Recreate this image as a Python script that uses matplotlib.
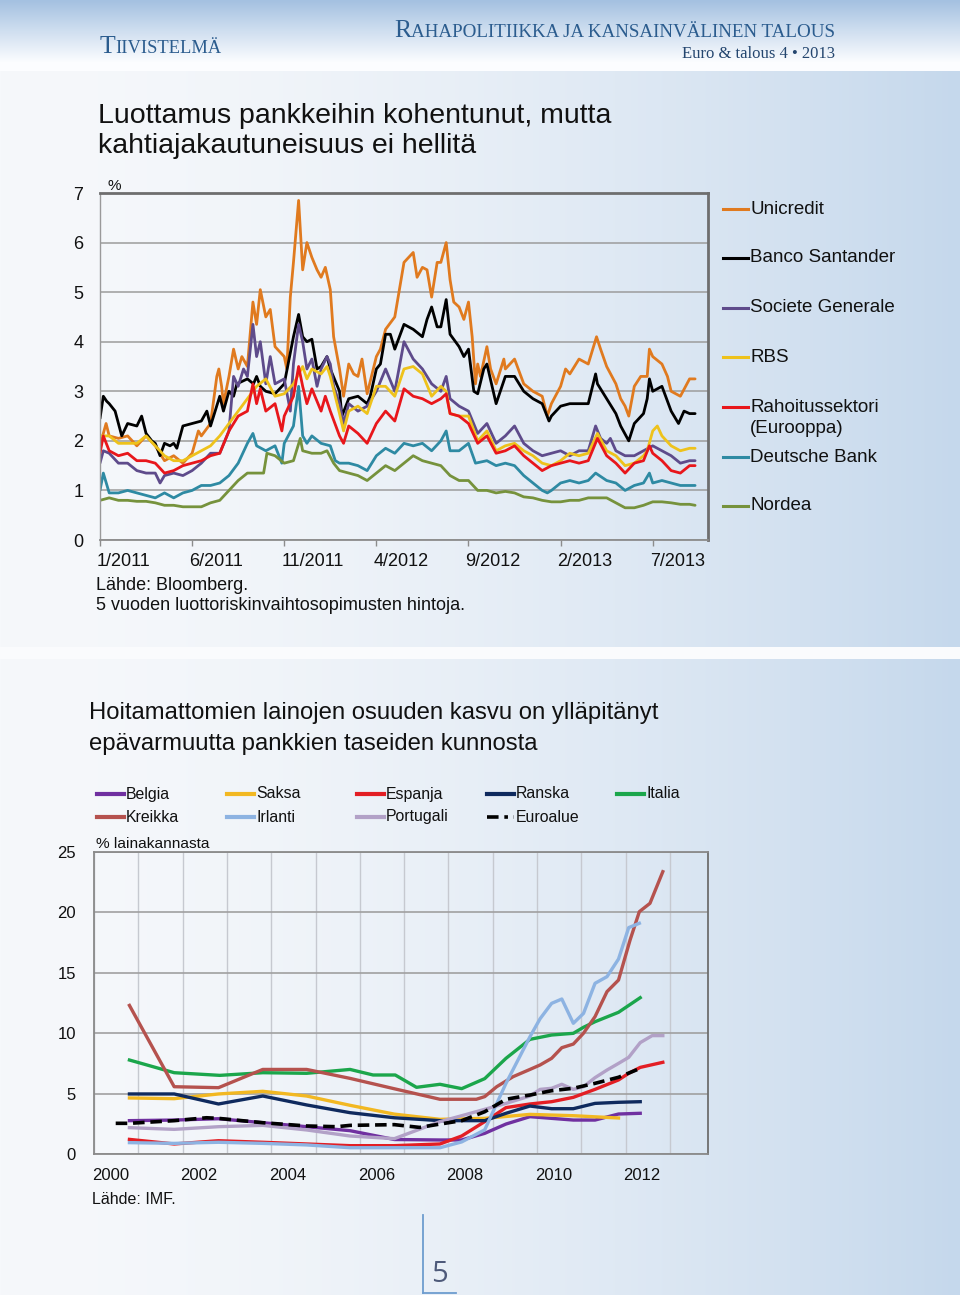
import numpy as np
import matplotlib
matplotlib.use('Agg')
import matplotlib.pyplot as plt
from matplotlib.lines import Line2D
from matplotlib.transforms import ScaledTranslation
from matplotlib import font_manager as fm

W, H = 960, 1295

# ---------------- Chart 1 data: 5y CDS prices, % (x = months since 1/2011) ----------------
bank_names = ['Unicredit', 'Banco Santander', 'Societe Generale', 'RBS',
              'Rahoitussektori\n(Eurooppa)', 'Deutsche Bank', 'Nordea']
bank_colors = ['#E07A1F', '#000000', '#5E4B8B', '#EEC21B', '#E8161B', '#2E8AA3', '#76923C']
month_ticks = [0, 5, 10, 15, 20, 25, 30]
month_labels = ['1/2011', '6/2011', '11/2011', '4/2012', '9/2012', '2/2013', '7/2013']

unicredit = [(0,1.9),(0.18,2.15),(0.33,2.35),(0.5,2.1),(1.0,2.05),(1.5,2.1),(2.0,1.9),(2.5,2.1),(3.0,1.9),(3.5,1.6),
             (4.0,1.7),(4.5,1.55),(5.0,1.75),(5.34,2.2),(5.5,2.1),(6.0,2.35),(6.34,3.3),(6.45,3.45),(6.6,3.1),(6.7,2.75),
             (7.0,3.3),(7.25,3.85),(7.5,3.45),(7.7,3.7),(8.0,3.5),(8.3,4.8),(8.5,4.35),(8.7,5.05),(9.0,4.5),(9.24,4.65),
             (9.5,3.9),(10.0,3.7),(10.14,3.45),(10.33,4.9),(10.5,5.6),(10.78,6.85),(11.0,5.45),(11.23,6.0),(11.5,5.7),(11.78,5.45),
             (12.0,5.3),(12.23,5.5),(12.5,5.05),(12.68,4.1),(13.0,3.45),(13.22,2.9),(13.5,3.55),(13.77,3.35),(14.0,3.3),(14.22,3.65),
             (14.5,2.95),(15.0,3.7),(15.22,3.85),(15.5,4.25),(16.0,4.5),(16.5,5.6),(17.0,5.8),(17.21,5.3),(17.5,5.5),(17.75,5.45),
             (18.0,4.9),(18.3,5.6),(18.5,5.6),(18.79,6.0),(19.0,5.25),(19.2,4.8),(19.49,4.7),(19.75,4.45),(20.0,4.8),(20.2,4.1),
             (20.38,3.15),(20.5,3.55),(20.65,3.3),(21.0,3.9),(21.2,3.45),(21.5,3.15),(21.92,3.65),(22.0,3.45),(22.5,3.65),(23.0,3.15),
             (23.5,3.0),(24.0,2.9),(24.28,2.5),(24.5,2.75),(25.0,3.1),(25.27,3.45),(25.5,3.35),(26.0,3.65),(26.5,3.55),(26.95,4.1),
             (27.17,3.85),(27.5,3.5),(28.0,3.15),(28.26,2.85),(28.5,2.7),(28.7,2.5),(29.0,3.1),(29.35,3.3),(29.7,3.3),(29.82,3.85),
             (30.0,3.7),(30.5,3.55),(30.8,3.3),(31.0,3.0),(31.5,2.9),(32.0,3.25),(32.3,3.25)]

santander = [(0,2.45),(0.18,2.9),(0.36,2.8),(0.5,2.75),(0.82,2.6),(1.0,2.35),(1.18,2.1),(1.5,2.35),(2.0,2.3),(2.26,2.5),
             (2.5,2.15),(2.81,2.0),(3.0,1.95),(3.26,1.7),(3.5,1.95),(3.8,1.9),(4.0,1.95),(4.17,1.85),(4.5,2.3),(5.0,2.35),
             (5.5,2.4),(5.8,2.6),(6.0,2.3),(6.5,2.9),(6.7,2.6),(7.0,3.0),(7.25,2.9),(7.43,3.15),(8.0,3.25),(8.33,3.15),
             (8.5,3.3),(8.7,3.1),(9.0,3.0),(9.5,2.95),(10.0,3.15),(10.5,4.1),(10.78,4.55),(11.0,4.1),(11.23,4.0),(11.5,4.05),
             (11.78,3.45),(12.0,3.5),(12.32,3.7),(12.5,3.45),(13.0,3.0),(13.13,2.5),(13.5,2.85),(14.0,2.9),(14.5,2.75),(14.67,2.9),
             (15.0,3.45),(15.22,3.55),(15.5,4.15),(15.76,4.15),(16.0,3.85),(16.5,4.35),(17.0,4.25),(17.5,4.1),(17.75,4.45),(18.0,4.7),
             (18.3,4.3),(18.5,4.3),(18.79,4.85),(19.0,4.15),(19.49,3.9),(19.75,3.7),(20.0,3.85),(20.29,3.0),(20.5,2.95),(20.83,3.45),
             (21.0,3.55),(21.5,2.75),(22.0,3.3),(22.5,3.3),(23.0,3.0),(23.5,2.85),(24.0,2.75),(24.37,2.4),(24.5,2.5),(25.0,2.7),
             (25.5,2.75),(26.0,2.75),(26.5,2.75),(26.9,3.35),(27.0,3.15),(27.5,2.85),(28.0,2.55),(28.26,2.3),(28.7,2.0),(29.0,2.35),
             (29.5,2.55),(29.7,2.85),(29.82,3.25),(30.0,3.0),(30.5,3.1),(31.0,2.6),(31.4,2.35),(31.7,2.6),(32.0,2.55),(32.3,2.55)]

socgen = [(0,1.55),(0.18,1.8),(0.5,1.75),(1.0,1.55),(1.5,1.55),(2.0,1.4),(2.5,1.35),(3.0,1.35),(3.26,1.15),(3.5,1.3),
          (4.0,1.35),(4.5,1.3),(5.0,1.4),(5.5,1.55),(6.0,1.75),(6.5,1.75),(7.0,2.2),(7.25,3.3),(7.5,3.1),(7.79,3.45),
          (8.0,3.3),(8.3,4.35),(8.5,3.7),(8.7,4.0),(9.0,3.15),(9.24,3.7),(9.5,3.15),(10.0,3.25),(10.33,2.6),(10.5,3.55),
          (10.78,4.35),(11.0,4.0),(11.23,3.45),(11.5,3.65),(11.78,3.1),(12.0,3.45),(12.32,3.7),(12.5,3.55),(12.68,3.1),(13.0,2.75),
          (13.22,2.35),(13.5,2.75),(14.0,2.6),(14.5,2.7),(15.0,3.0),(15.5,3.45),(16.0,3.0),(16.5,4.0),(17.0,3.65),(17.5,3.45),
          (18.0,3.15),(18.5,3.0),(18.79,3.3),(19.0,2.85),(19.49,2.7),(20.0,2.6),(20.5,2.15),(21.0,2.35),(21.5,1.95),(22.0,2.1),
          (22.5,2.3),(23.0,1.95),(23.5,1.8),(24.0,1.7),(24.5,1.75),(25.0,1.8),(25.5,1.7),(26.0,1.8),(26.5,1.8),(26.9,2.3),
          (27.17,2.05),(27.5,1.95),(27.7,2.05),(28.0,1.8),(28.5,1.7),(29.0,1.7),(29.5,1.8),(30.0,1.9),(30.5,1.8),(31.0,1.7),
          (31.5,1.55),(32.0,1.6),(32.3,1.6)]

rbs = [(0,2.1),(0.5,2.1),(1.0,1.95),(1.5,1.95),(2.0,1.95),(2.5,2.1),(3.0,1.9),(3.5,1.7),(4.0,1.6),(4.5,1.6),
       (5.0,1.7),(5.5,1.8),(6.0,1.9),(6.5,2.1),(7.0,2.35),(7.5,2.6),(8.0,2.85),(8.5,3.1),(9.0,3.25),(9.5,2.9),
       (10.0,2.95),(10.5,3.15),(11.0,3.5),(11.23,3.25),(11.5,3.45),(12.0,3.35),(12.32,3.5),(12.5,3.3),(13.0,2.55),(13.22,2.2),
       (13.5,2.6),(14.0,2.7),(14.5,2.55),(15.0,3.1),(15.5,3.1),(16.0,2.9),(16.5,3.45),(17.0,3.5),(17.5,3.35),(18.0,2.9),
       (18.5,3.1),(18.79,3.0),(19.0,2.55),(19.49,2.5),(20.0,2.5),(20.5,2.0),(21.0,2.2),(21.5,1.8),(22.0,1.9),(22.5,1.95),
       (23.0,1.8),(23.5,1.7),(24.0,1.55),(24.5,1.5),(25.0,1.6),(25.5,1.75),(26.0,1.7),(26.5,1.75),(27.0,2.15),(27.5,1.8),
       (28.0,1.7),(28.5,1.5),(29.0,1.55),(29.5,1.7),(29.7,1.8),(30.0,2.2),(30.25,2.3),(30.5,2.1),(31.0,1.9),(31.5,1.8),
       (32.0,1.85),(32.3,1.85)]

rahoitus = [(0,1.75),(0.18,2.1),(0.5,1.8),(1.0,1.7),(1.5,1.75),(2.0,1.6),(2.5,1.6),(3.0,1.55),(3.5,1.35),(4.0,1.4),
            (4.5,1.5),(5.0,1.55),(5.5,1.6),(6.0,1.7),(6.5,1.75),(7.0,2.2),(7.5,2.5),(8.0,2.6),(8.3,3.15),(8.5,2.75),
            (8.7,3.05),(9.0,2.6),(9.5,2.75),(9.87,2.2),(10.0,2.5),(10.5,2.9),(10.78,3.5),(11.0,3.1),(11.23,2.75),(11.5,3.05),
            (12.0,2.6),(12.23,2.9),(12.5,2.6),(13.0,2.1),(13.22,1.95),(13.5,2.3),(14.0,2.15),(14.5,1.95),(15.0,2.35),(15.5,2.6),
            (16.0,2.4),(16.5,3.05),(17.0,2.9),(17.5,2.85),(18.0,2.75),(18.5,2.85),(18.79,2.95),(19.0,2.55),(19.49,2.5),(20.0,2.35),
            (20.5,1.95),(21.0,2.1),(21.5,1.75),(22.0,1.8),(22.5,1.9),(23.0,1.7),(23.5,1.55),(24.0,1.4),(24.5,1.5),(25.0,1.55),
            (25.5,1.6),(26.0,1.55),(26.5,1.6),(27.0,2.05),(27.5,1.7),(28.0,1.55),(28.5,1.35),(29.0,1.55),(29.5,1.6),(29.82,1.9),
            (30.0,1.75),(30.5,1.6),(31.0,1.4),(31.5,1.35),(32.0,1.5),(32.3,1.5)]

deutsche = [(0,1.0),(0.18,1.35),(0.5,0.95),(1.0,0.95),(1.5,1.0),(2.0,0.95),(2.5,0.9),(3.0,0.85),(3.5,0.95),(4.0,0.85),
            (4.5,0.95),(5.0,1.0),(5.5,1.1),(6.0,1.1),(6.5,1.15),(7.0,1.3),(7.5,1.55),(8.0,1.95),(8.3,2.15),(8.5,1.9),
            (9.0,1.8),(9.5,1.9),(9.87,1.55),(10.0,1.95),(10.5,2.3),(10.78,3.1),(11.0,2.1),(11.23,1.95),(11.5,2.1),(12.0,1.95),
            (12.5,1.9),(12.77,1.6),(13.0,1.55),(13.5,1.55),(14.0,1.5),(14.5,1.4),(15.0,1.7),(15.5,1.85),(16.0,1.75),(16.5,1.95),
            (17.0,1.9),(17.5,1.95),(18.0,1.8),(18.5,2.0),(18.79,2.2),(19.0,1.8),(19.49,1.8),(20.0,1.95),(20.38,1.55),(21.0,1.6),
            (21.5,1.5),(22.0,1.55),(22.5,1.5),(23.0,1.3),(23.5,1.15),(24.0,1.0),(24.28,0.95),(24.5,1.0),(25.0,1.15),(25.5,1.2),
            (26.0,1.15),(26.5,1.2),(26.9,1.35),(27.5,1.2),(28.0,1.15),(28.5,1.0),(29.0,1.1),(29.5,1.15),(29.82,1.35),(30.0,1.15),
            (30.5,1.2),(31.0,1.15),(31.5,1.1),(32.0,1.1),(32.3,1.1)]

nordea = [(0,0.8),(0.5,0.85),(1.0,0.8),(1.5,0.8),(2.0,0.78),(2.5,0.78),(3.0,0.75),(3.5,0.7),(4.0,0.7),(4.5,0.67),
          (5.0,0.67),(5.5,0.67),(6.0,0.75),(6.5,0.8),(7.0,1.0),(7.5,1.2),(8.0,1.35),(8.5,1.35),(8.88,1.35),(9.06,1.75),
          (9.5,1.7),(10.0,1.55),(10.5,1.6),(10.87,2.05),(11.0,1.8),(11.5,1.75),(12.0,1.75),(12.32,1.8),(12.68,1.55),(13.0,1.4),
          (13.5,1.35),(14.0,1.3),(14.5,1.2),(15.0,1.35),(15.5,1.5),(16.0,1.4),(16.5,1.55),(17.0,1.7),(17.5,1.6),(18.0,1.55),
          (18.5,1.5),(19.0,1.3),(19.49,1.2),(20.0,1.2),(20.5,1.0),(21.0,1.0),(21.5,0.95),(22.0,0.98),(22.5,0.95),(23.0,0.87),
          (23.5,0.85),(24.0,0.8),(24.5,0.77),(25.0,0.77),(25.5,0.8),(26.0,0.8),(26.5,0.85),(27.0,0.85),(27.5,0.85),(28.0,0.75),
          (28.5,0.65),(29.0,0.65),(29.5,0.7),(30.0,0.77),(30.5,0.77),(31.0,0.75),(31.5,0.72),(32.0,0.72),(32.3,0.7)]

bank_series = [unicredit, santander, socgen, rbs, rahoitus, deutsche, nordea]

# ---------------- Chart 2 data: non-performing loans, % of loan stock ----------------
country_names = ['Belgia', 'Saksa', 'Espanja', 'Ranska', 'Italia',
                 'Kreikka', 'Irlanti', 'Portugali', 'Euroalue']
country_colors = ['#7030A0', '#F2B822', '#E31E24', '#0F2A5E', '#1BA64B',
                  '#B5524E', '#8DB3E2', '#B2A1C7', '#000000']
year_ticks = list(range(2000, 2014))
year_labels = [str(y) if y % 2 == 0 else '' for y in year_ticks]

belgia = [(2000.8,2.76),(2001.81,2.81),(2002.81,2.92),(2003.81,2.59),(2004.8,2.26),(2005.78,1.93),(2006.78,1.2),
          (2007.81,1.16),(2008.3,1.16),(2008.82,1.71),(2009.3,2.48),(2009.84,3.09),(2010.33,2.95),(2010.82,2.81),
          (2011.31,2.81),(2011.84,3.31),(2012.33,3.37)]
saksa = [(2000.8,4.64),(2001.81,4.58),(2002.81,4.97),(2003.81,5.19),(2004.8,4.8),(2005.78,4.03),(2006.78,3.3),
         (2007.81,2.87),(2008.82,2.95),(2009.84,3.28),(2010.82,3.17),(2011.84,2.98)]
espanja = [(2000.8,1.21),(2001.81,0.83),(2002.81,1.1),(2003.81,0.97),(2004.8,0.83),(2005.78,0.69),(2006.78,0.69),
           (2007.81,0.83),(2008.3,1.49),(2008.82,2.68),(2009.3,3.84),(2009.84,4.14),(2010.33,4.33),(2010.82,4.69),
           (2011.31,5.35),(2011.84,6.13),(2012.07,6.68),(2012.33,7.17),(2012.84,7.59)]
ranska = [(2000.8,4.97),(2001.81,4.97),(2002.81,4.14),(2003.81,4.8),(2004.8,4.06),(2005.78,3.42),(2006.78,3.0),
          (2007.81,2.76),(2008.82,2.76),(2009.3,3.37),(2009.84,3.97),(2010.33,3.75),(2010.82,3.75),(2011.31,4.19),
          (2011.84,4.28),(2012.33,4.33)]
italia = [(2000.8,7.78),(2001.81,6.73),(2002.84,6.51),(2003.81,6.73),(2004.8,6.68),(2005.78,7.0),(2006.3,6.54),
          (2006.8,6.54),(2007.28,5.52),(2007.81,5.77),(2008.3,5.41),(2008.82,6.24),(2009.3,7.92),(2009.84,9.49),
          (2010.33,9.85),(2010.82,9.99),(2011.05,10.49),(2011.31,10.95),(2011.84,11.73),(2012.33,12.94)]
kreikka = [(2000.8,12.3),(2001.81,5.57),(2002.81,5.49),(2003.81,7.0),(2004.8,7.0),(2005.78,6.26),(2006.78,5.4),
           (2007.81,4.53),(2008.63,4.53),(2008.82,4.75),(2009.09,5.57),(2009.46,6.4),(2009.84,7.0),(2010.07,7.37),
           (2010.33,7.92),(2010.56,8.8),(2010.82,9.1),(2011.05,10.0),(2011.31,11.37),(2011.58,13.44),(2011.84,14.4),
           (2012.1,17.7),(2012.31,20.06),(2012.55,20.75),(2012.84,23.37)]
irlanti = [(2000.8,0.94),(2001.81,0.88),(2002.81,0.97),(2003.81,0.88),(2004.8,0.75),(2005.78,0.52),(2006.78,0.52),
           (2007.81,0.52),(2008.3,1.0),(2008.82,2.0),(2009.3,5.85),(2009.84,9.7),(2010.07,11.2),(2010.33,12.47),
           (2010.56,12.83),(2010.82,10.82),(2011.05,11.64),(2011.31,14.13),(2011.58,14.68),(2011.84,16.14),
           (2012.07,18.74),(2012.31,19.1)]
portugali = [(2000.8,2.18),(2001.81,2.04),(2002.81,2.26),(2003.81,2.37),(2004.8,1.99),(2005.78,1.49),(2006.78,1.27),
             (2007.81,2.68),(2008.3,3.17),(2008.82,3.7),(2009.3,4.19),(2009.84,4.8),(2010.07,5.35),(2010.33,5.44),
             (2010.56,5.77),(2010.82,5.35),(2011.05,5.57),(2011.31,6.32),(2011.58,6.95),(2011.84,7.5),(2012.07,8.0),
             (2012.33,9.22),(2012.6,9.8),(2012.84,9.8)]
euroalue = [(2000.49,2.54),(2000.8,2.54),(2001.81,2.76),(2002.54,3.0),(2002.81,2.95),(2003.81,2.59),(2004.8,2.32),
            (2005.48,2.26),(2005.78,2.37),(2006.78,2.43),(2007.35,2.2),(2007.81,2.48),(2008.3,2.76),(2008.82,3.5),
            (2009.3,4.53),(2009.84,4.88),(2010.33,5.24),(2010.82,5.44),(2011.31,5.85),(2011.84,6.35),(2012.33,7.09)]

country_series = [belgia, saksa, espanja, ranska, italia, kreikka, irlanti, portugali, euroalue]

# ---------------- fonts ----------------
def has_font(name):
    try:
        path = fm.findfont(fm.FontProperties(family=name), fallback_to_default=False)
        return 'narrow' in path.lower()
    except Exception:
        return False

SANS = 'Liberation Sans'
SERIF = 'Liberation Serif'
NARROW = 'Liberation Sans Narrow' if has_font('Liberation Sans Narrow') else None

def narrow_kw(size):
    if NARROW:
        return dict(family=NARROW, fontsize=size)
    return dict(family=SANS, fontsize=size * 0.82)

plt.rcParams['font.family'] = [SANS, 'DejaVu Sans']

fig = plt.figure(figsize=(W / 100, H / 100), dpi=100)

# ---------------- page background ----------------
yy, xx = np.mgrid[0:H, 0:W]
t = (xx / (W - 1.0)) ** 1.7
c_left = np.array([246, 248, 251]) / 255.0
c_right = np.array([197, 216, 236]) / 255.0
bg = c_left + (c_right - c_left) * t[..., None]
s = np.clip(yy / 62.0, 0, 1)[..., None]
c_top = np.array([164, 193, 225]) / 255.0
c_white = np.array([252, 253, 255]) / 255.0
hdr = c_top + (c_white - c_top) * s
bg = np.where((yy < 71)[..., None], hdr, bg)
band = (yy >= 647) & (yy < 659)
bg[band] = np.array([250, 251, 253]) / 255.0
bgax = fig.add_axes([0, 0, 1, 1], zorder=-10)
bgax.imshow(bg, aspect='auto', interpolation='bilinear')
bgax.axis('off')


def P(x, y):
    return x / W, 1 - y / H


def ftext(x, y, s, **kw):
    kw.setdefault('va', 'center')
    return fig.text(*P(x, y), s, **kw)


def fline(x1, y1, x2, y2, **kw):
    fig.add_artist(Line2D([x1 / W, x2 / W], [1 - y1 / H, 1 - y2 / H],
                          transform=fig.transFigure, **kw))


renderer = fig.canvas.get_renderer()

# ---------------- header (small caps) ----------------
HDR_COL = '#2B5C8E'


def smallcaps(x, y, word, big, small, color, align='left'):
    first, rest = word[0], word[1:].upper()
    if align == 'left':
        t1 = ftext(x, y, first, family=SERIF, fontsize=big, color=color, va='baseline', ha='left')
        w1 = t1.get_window_extent(renderer).width
        ftext(x + w1, y, rest, family=SERIF, fontsize=small, color=color, va='baseline', ha='left')
    else:
        t2 = ftext(x, y, rest, family=SERIF, fontsize=small, color=color, va='baseline', ha='right')
        w2 = t2.get_window_extent(renderer).width
        ftext(x - w2, y, first, family=SERIF, fontsize=big, color=color, va='baseline', ha='right')


smallcaps(100, 53, 'Tiivistelmä', 18.5, 13.3, HDR_COL)
smallcaps(835, 37, 'Rahapolitiikka ja kansainvälinen talous', 18.5, 13.7, HDR_COL, align='right')
ftext(835, 58, 'Euro & talous 4 • 2013', family=SERIF, fontsize=12, color='#24466F',
      va='baseline', ha='right')

# ---------------- Chart 1 ----------------
ftext(98, 116, 'Luottamus pankkeihin kohentunut, mutta', fontsize=20.5, color='#111111')
ftext(98, 146, 'kahtiajakautuneisuus ei hellitä', fontsize=20.5, color='#111111')

ax1 = fig.add_axes([100 / W, 1 - 540 / H, 608 / W, 347 / H])
ax1.set_facecolor('none')
for data, color in zip(bank_series, bank_colors):
    m, v = zip(*data)
    ax1.plot(m, v, color=color, lw=2.0, solid_joinstyle='round', solid_capstyle='round')
ax1.set_xlim(0, 33)
ax1.set_ylim(0, 7)
ax1.set_yticks(range(0, 8))
ax1.yaxis.grid(True, color='#9C9C9C', lw=1.1)
ax1.set_axisbelow(True)
ax1.set_xticks(month_ticks)
ax1.set_xticklabels(month_labels, ha='left')
ax1.tick_params(axis='y', length=0, pad=12, labelsize=13, labelcolor='#111111')
ax1.tick_params(axis='x', direction='out', length=4, width=1, color='#8C8C8C', pad=5,
                labelsize=13, labelcolor='#111111')
for lbl in ax1.get_xticklabels():
    lbl.set_transform(lbl.get_transform() + ScaledTranslation(-0.03, 0, fig.dpi_scale_trans))
for side, lw, col in [('top', 2.0, '#6E6E6E'), ('right', 2.0, '#6E6E6E'),
                      ('left', 1.0, '#9A9A9A'), ('bottom', 1.3, '#8C8C8C')]:
    ax1.spines[side].set_linewidth(lw)
    ax1.spines[side].set_color(col)

ftext(107, 186, '%', fontsize=11, color='#111111')
ftext(96, 585, 'Lähde: Bloomberg.', fontsize=13, color='#111111')
ftext(96, 606, '5 vuoden luottoriskinvaihtosopimusten hintoja.', fontsize=13, color='#111111')

leg1_y = [209, 258, 308, 357, 407, 457, 506]
for name, color, y in zip(bank_names, bank_colors, leg1_y):
    fline(723, y, 748, y, color=color, lw=2.2)
    for k, part in enumerate(name.split('\n')):
        ftext(750, y + 21 * k, part, fontsize=13.5, color='#111111', ha='left')

# ---------------- Chart 2 ----------------
ftext(89, 713, 'Hoitamattomien lainojen osuuden kasvu on ylläpitänyt', color='#111111', **narrow_kw(21.0))
ftext(89, 744, 'epävarmuutta pankkien taseiden kunnosta', color='#111111', **narrow_kw(21.0))

leg2_pos = [(97, 794), (227, 794), (357, 794), (487, 794), (617, 794),
            (97, 817), (227, 817), (357, 817), (487, 817)]
for name, color, (x, y) in zip(country_names, country_colors, leg2_pos):
    if name == 'Euroalue':
        fline(487, y, 514, y, color=color, lw=2.6, dashes=(3.2, 1.6, 1.0, 1.6))
    else:
        fline(x, y, x + 27, y, color=color, lw=3.0)
    ftext(x + 29, y, name, color='#111111', ha='left', **narrow_kw(14))

ftext(96, 844, '% lainakannasta', color='#111111', ha='left', **narrow_kw(13.5))

ax2 = fig.add_axes([94 / W, 1 - 1154 / H, 614 / W, 302 / H])
ax2.set_facecolor('none')
for name, data, color in zip(country_names, country_series, country_colors):
    yrs, val = zip(*data)
    if name == 'Euroalue':
        ax2.plot(yrs, val, color=color, lw=2.6, dashes=(3.2, 1.6))
    else:
        ax2.plot(yrs, val, color=color, lw=2.4, solid_joinstyle='round')
ax2.set_xlim(2000, 2013.86)
ax2.set_ylim(0, 25)
ax2.set_yticks(range(0, 26, 5))
ax2.set_xticks(year_ticks)
ax2.set_xticklabels(year_labels, ha='left')
ax2.yaxis.grid(True, color='#A0A0A0', lw=1.2)
ax2.xaxis.grid(True, color='#C6C9D0', lw=1.0)
ax2.set_axisbelow(True)
ax2.tick_params(axis='y', length=0, pad=13, labelsize=12, labelcolor='#111111')
ax2.tick_params(axis='x', length=0, pad=10, labelsize=12, labelcolor='#111111')
for lbl in ax2.get_xticklabels():
    lbl.set_transform(lbl.get_transform() + ScaledTranslation(-0.02, 0, fig.dpi_scale_trans))
for side in ['top', 'right', 'left', 'bottom']:
    ax2.spines[side].set_color('#8A8A8A')
    ax2.spines[side].set_linewidth(1.3)
ax2.spines['right'].set_color('#6E6E6E')

ftext(92, 1199, 'Lähde: IMF.', fontsize=11.5, color='#111111', ha='left')

# ---------------- page number ----------------
fline(423, 1215, 423, 1293, color='#6D9CCF', lw=1.3)
fline(423, 1293, 456, 1293, color='#6D9CCF', lw=1.3)
ftext(439, 1275, '5', family=['Open Sans', 'DejaVu Sans'], fontsize=21, color='#4E5A7A', ha='center')

fig.savefig('out.png', dpi=100)
